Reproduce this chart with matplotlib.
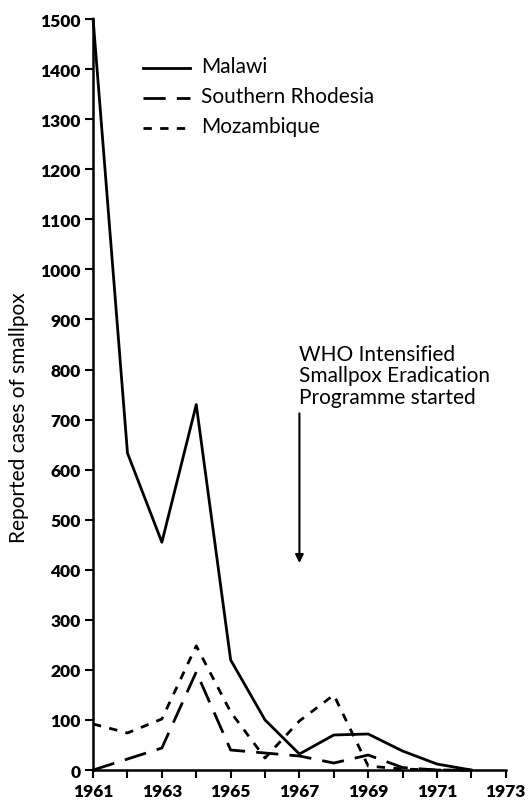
import matplotlib
matplotlib.use('Agg')
import matplotlib.pyplot as plt

plt.rcParams['font.family'] = ['Lato', 'DejaVu Sans']

years = [1961, 1962, 1963, 1964, 1965, 1966, 1967, 1968, 1969, 1970, 1971, 1972]
malawi = [1500, 633, 455, 730, 220, 100, 32, 70, 72, 38, 12, 0]
s_rhodesia = [0, 22, 44, 196, 40, 34, 28, 14, 30, 5, 0, 0]
mozambique = [92, 74, 102, 248, 116, 24, 98, 150, 8, 2, 0, 0]

xticks = list(range(1961, 1974))
xlabels = [str(y) if y % 2 == 1 else '' for y in xticks]
yticks = list(range(0, 1501, 100))

fig = plt.figure(figsize=(5.29, 8.04), dpi=100)
ax = fig.add_axes([0.176, 0.041, 0.78, 0.934])

ax.plot(years, malawi, color='black', lw=2.0, clip_on=False)
ax.plot(years, s_rhodesia, color='black', lw=2.0, dashes=(8, 4), clip_on=False)
ax.plot(years, mozambique, color='black', lw=2.0, dashes=(3, 3), clip_on=False)

ax.set_xlim(1961, 1973)
ax.set_ylim(0, 1500)
ax.set_xticks(xticks)
ax.set_xticklabels(xlabels, fontsize=12.5, fontweight='heavy')
ax.set_yticks(yticks)
ax.set_yticklabels([str(v) for v in yticks], fontsize=12.5, fontweight='heavy')
ax.tick_params(direction='out', length=6, width=1.5, pad=3)
for s in ['top', 'right']:
    ax.spines[s].set_visible(False)
for s in ['left', 'bottom']:
    ax.spines[s].set_linewidth(1.8)

ax.set_ylabel('Reported cases of smallpox', fontsize=15)
ax.yaxis.set_label_coords(-0.155, 0.47)

# legend drawn by hand
leg = [('Malawi', None), ('Southern Rhodesia', (8, 4)), ('Mozambique', (3, 3))]
for i, (name, d) in enumerate(leg):
    yy = 0.935 - i * 0.04
    kw = {} if d is None else {'dashes': d}
    ax.plot([0.121, 0.235], [yy, yy], transform=ax.transAxes, color='black', lw=2.0, **kw)
    ax.text(0.262, yy + 0.003, name, transform=ax.transAxes, fontsize=15, va='center')

ax.text(1967, 852, 'WHO Intensified\nSmallpox Eradication\nProgramme started',
        fontsize=15, ha='left', va='top', linespacing=1.1)
ax.annotate('', xy=(1967, 408), xytext=(1967, 718),
            arrowprops=dict(arrowstyle='-|>', color='black', lw=1.5, mutation_scale=12))

fig.savefig('out.png', dpi=100)
